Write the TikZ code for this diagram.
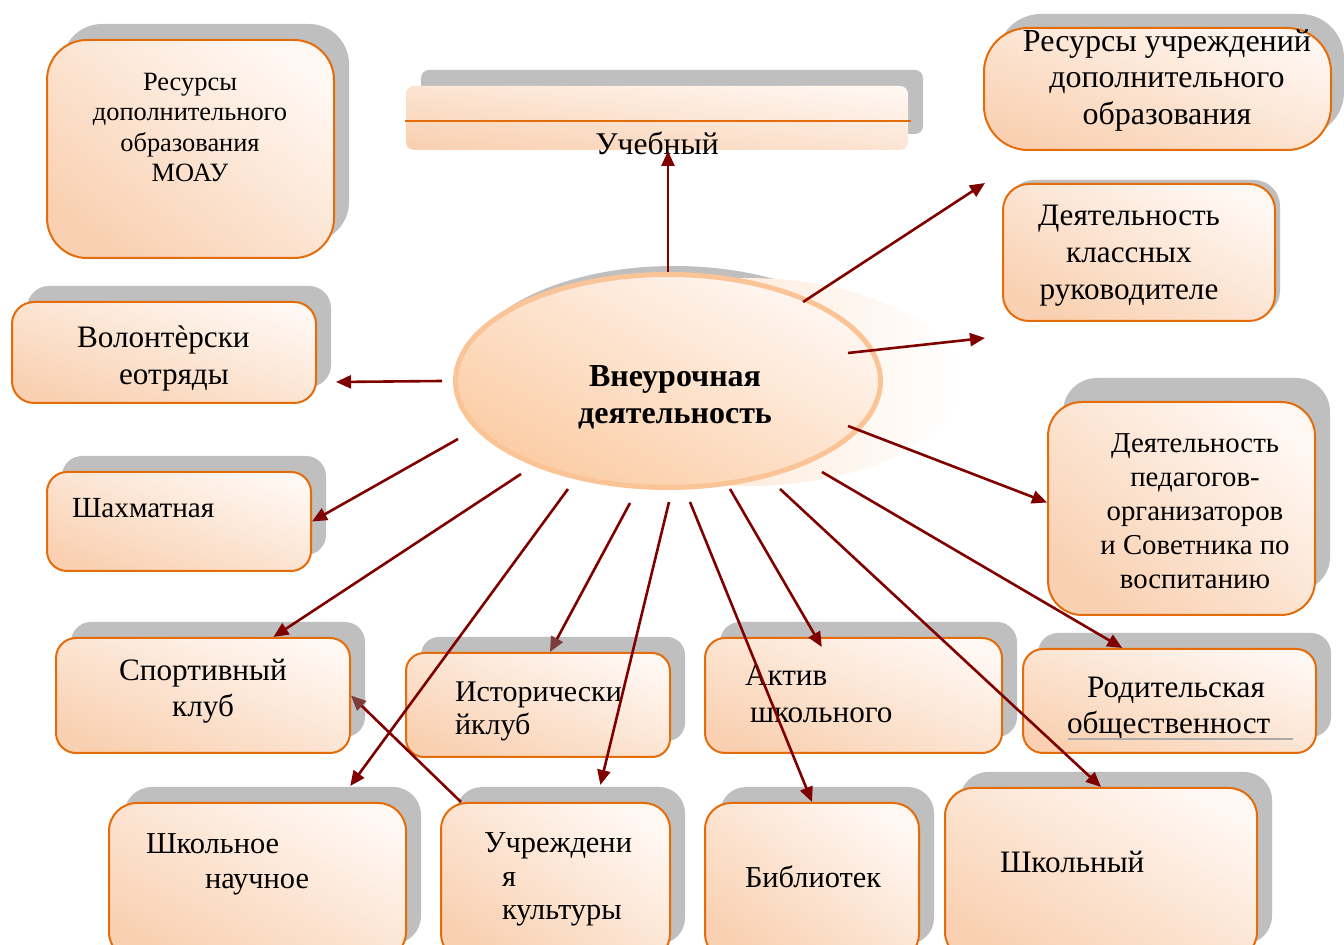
\documentclass[tikz,border=0pt]{standalone}
\usepackage{fontspec}
\setmainfont{Liberation Serif}
\usetikzlibrary{shapes.geometric,arrows.meta,calc,shadows}
\definecolor{peach}{RGB}{249,209,178}
\definecolor{peachlight}{RGB}{255,247,242}
\definecolor{boxorange}{RGB}{228,108,10}
\definecolor{shadowgray}{RGB}{191,191,191}
\definecolor{arrowred}{RGB}{128,0,0}
\definecolor{headbrown}{RGB}{125,60,60}
\definecolor{ellborder}{RGB}{250,196,150}
\definecolor{ellpeach}{RGB}{251,204,164}
\definecolor{ulgray}{RGB}{170,170,170}
\newcommand\fsz[2]{\fontsize{#1pt}{#2pt}\selectfont}
\newcommand\mkbox[6]{%
  \pgfmathsetmacro\myshang{-atan((#5-#3)/(#4-#2))}%
  \node[#6, shading angle=\myshang, minimum width={(#4-#2)*0.5pt}, minimum height={(#5-#3)*0.5pt}] (#1) at ({(#2+#4)/2},{(#3+#5)/2}) {};}
\tikzset{
  box/.style={draw=boxorange, line width=1pt, bottom color=peach, top color=peachlight, inner sep=0pt, rounded corners=#1},
  box/.default=10pt,
  shs/.style 2 args={drop shadow={shadow xshift=#1, shadow yshift=#2, fill=shadowgray, opacity=1}},
  sh/.style={shs={7.5pt}{8pt}},
  txt/.style={inner sep=0pt, outer sep=0pt, text=black},
  arr/.style={draw=arrowred, line width=1.3pt, -{Triangle[length=7.5pt,width=6.5pt]}},
  arrb/.style={draw=arrowred, line width=1.3pt, -{Triangle[length=7.5pt,width=6.5pt,color=headbrown]}}
}
\begin{document}
\begin{tikzpicture}[x=0.5pt,y=-0.5pt]
\useasboundingbox (0,0) rectangle (1344,945);
\clip (0,0) rectangle (1344,945);
\fill[white] (0,0) rectangle (1344,945);

% boxes
\mkbox{resmoau}{47}{40}{334}{258}{box=20pt, sh}
\mkbox{ucheb}{406}{86}{908}{150}{box=4pt, draw=none, sh}
\mkbox{resuchr}{984}{28}{1331}{150}{box=22pt, shs={6.5pt}{7pt}}
\mkbox{klass}{1003}{184}{1275}{321}{box=13pt, shs={2.5pt}{2pt}}
\mkbox{volont}{12}{302}{316}{403}{box=11pt, sh}
\mkbox{shakh}{47}{472}{311}{571}{box=10pt, sh}
\mkbox{pedag}{1048}{402}{1315}{615}{box=17pt, shs={7.5pt}{12pt}}
\mkbox{sport}{56}{638}{350}{753}{box=10pt, sh}
\mkbox{istor}{406}{653}{670}{757}{box=9pt, sh}
\mkbox{aktiv}{705}{638}{1002}{753}{box=10pt, sh}
\mkbox{rodit}{1023}{649}{1316}{753}{box=10pt, sh}
\mkbox{shnauch}{109}{803}{406}{960}{box=14pt, sh}
\mkbox{uchr}{441}{803}{670}{960}{box=13pt, sh}
\mkbox{bibl}{705}{803}{919}{960}{box=13pt, sh}
\mkbox{shkol}{945}{788}{1257}{960}{box=14pt, sh}

% central ellipse
\node[ellipse, fill=shadowgray, inner sep=0pt, minimum width=208pt, minimum height=106pt] (ellsh) at (674,372) {};
\node[ellipse, left color=ellpeach!70!white, right color=white, inner sep=0pt, minimum width=215pt, minimum height=104pt] (ellglow) at (745,382) {};
\node[ellipse, draw=ellborder, line width=2.5pt, bottom color=ellpeach, top color=peachlight, shading angle=-27, inner sep=0pt, minimum width=212.5pt, minimum height=106.5pt] (ell) at (668,381) {};

% decorations inside boxes
\draw[boxorange, line width=1pt] ([yshift=-1.5pt]ucheb.west) -- ([yshift=-1.5pt, xshift=1pt]ucheb.east);

% texts
\node[txt, anchor=north, align=center, font=\fsz{13.2}{15.3}] (t1) at (190,68.6) {\strut Ресурсы\\дополнительного\\образования\\МОАУ};
\node[txt, anchor=base, font=\fsz{15.8}{19}] (t2) at (657,155) {Учебный};
\node[txt, anchor=north, align=center, font=\fsz{16}{18.25}] (t3) at (1167,25.5) {\strut Ресурсы учреждений\\дополнительного\\образования};
\node[txt, anchor=north, align=center, font=\fsz{15.6}{18.5}] (t4) at (1129,200) {\strut Деятельность\\классных\\руководителе};
\node[txt, anchor=north west, align=left, font=\fsz{15.6}{18.5}] (t5) at (77,322) {\strut Волонтèрски\\\hspace*{21pt}еотряды};
\node[txt, anchor=base west, font=\fsz{14.6}{17}] (t6) at (72,518) {Шахматная};
\node[txt, anchor=north, align=center, font=\fsz{16}{18.5}\bfseries] (t7) at (675,361) {\strut Внеурочная\\деятельность};
\node[txt, anchor=north, align=center, font=\fsz{14.4}{17}] (t8) at (1195,429.2) {\strut Деятельность\\педагогов-\\организаторов\\и Советника по\\воспитанию};
\node[txt, anchor=north, align=center, font=\fsz{15.6}{18}] (t9) at (203,655.5) {\strut Спортивный\\клуб};
\node[txt, anchor=north west, align=left, font=\fsz{15}{17}] (t10) at (455,677.2) {\strut Исторически\\йклуб};
\node[txt, anchor=north west, align=left, font=\fsz{15.6}{18.5}] (t11) at (745,660) {\strut Актив\\\hspace*{2.5pt}школьного};
\node[txt, anchor=north west, align=left, font=\fsz{15.6}{18}] (t12) at (1067,672.5) {\strut\hspace*{10pt}Родительская\\общественност};
\node[txt, anchor=north west, align=left, font=\fsz{15.2}{17.5}] (t13) at (146,828.5) {\strut Школьное\\\hspace*{29.5pt}научное};
\node[txt, anchor=north west, align=left, font=\fsz{15.2}{16.75}] (t14) at (484,829.5) {\strut Учреждени\\\hspace*{9pt}я\\\hspace*{9pt}культуры};
\node[txt, anchor=base west, font=\fsz{15.2}{18}] (t15) at (745,887) {Библиотек};
\node[txt, anchor=base west, font=\fsz{15.6}{18}] (t16) at (1000,872) {Школьный};
\draw[ulgray, line width=1.2pt] (1068,739) -- (1293,739);

% connectors
\coordinate (fe1) at (985,183);
\coordinate (fe2) at (985,338);
\draw[arr] (ell.north) -- (ell.north |- ucheb.south);
\draw[arr] ($(ell.center)+(135,-79)$) -- (fe1);
\draw[arr] ($(ell.center)+(180,-28)$) -- (fe2);
\draw[arr] ($(ell.center)+(180,45)$) -- ($(pedag.west)+(0,-6)$);
\draw[arr] ($(ell.center)+(154,91)$) -- ($(rodit.north west)!0.34!(rodit.north east)$);
\draw[arr] ($(ell.center)+(112,108)$) -- (shkol.north);
\draw[arr] ($(ell.center)+(62,108)$) -- ($(aktiv.north west)!0.394!(aktiv.north east)+(0,10)$);
\draw[arr] ($(ell.center)+(22,121)$) -- (bibl.north);
\draw[arr] ($(ell.center)+(1,121)$) -- ($(uchr.north west)!0.694!(uchr.north east)+(0,-17)$);
\draw[arrb] ($(ell.center)+(-38,122)$) -- ($(istor.north west)!0.545!(istor.north east)$);
\draw[arr] ($(ell.center)+(-100,108)$) -- ($(shnauch.north west)!0.81!(shnauch.north east)+(0,-16)$);
\draw[arr] ($(ell.center)+(-147,93)$) -- ($(sport.north west)!0.738!(sport.north east)$);
\draw[arr] ($(ell.center)+(-210,58)$) -- (shakh.east);
\draw[arr] ($(ell.center)+(-226,0)$) -- ($(volont.south east)+(19,-22)$);
\draw[arrb] ($(uchr.north west)+(21,0)$) -- (sport.east);
\end{tikzpicture}
\end{document}
